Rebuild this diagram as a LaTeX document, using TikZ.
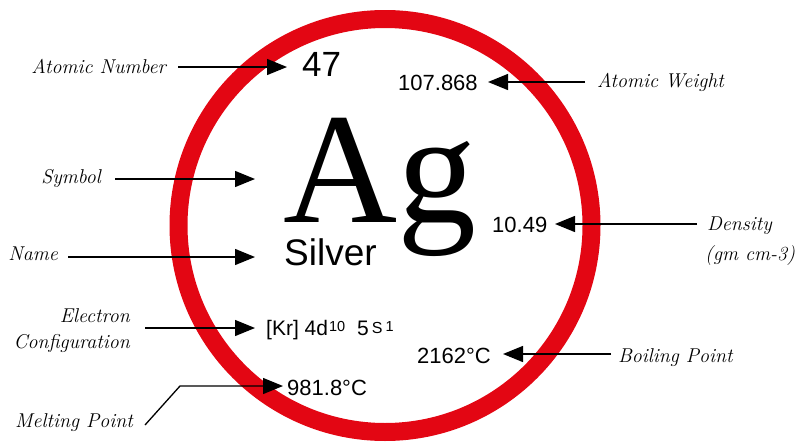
\documentclass[tikz,border=0pt]{standalone}
\usepackage{fontspec}
\setsansfont{Liberation Sans}
\newfontfamily\agfont{Liberation Serif}
\usetikzlibrary{arrows.meta}
\definecolor{ringred}{RGB}{227,6,19}
\tikzset{
  lbl/.style={inner sep=0pt, font=\fontsize{20}{22}\selectfont\itshape},
  val/.style={inner sep=0pt, font=\sffamily\fontsize{22}{24}\selectfont},
  bigsym/.style={inner sep=0pt, font=\agfont\fontsize{158}{160}\selectfont},
  arr/.style={line width=1.3pt, -{Triangle[length=20pt,width=16pt]}}
}
\newcommand{\supsm}[2]{\raisebox{#1}{\fontsize{14.5}{15}\selectfont #2}}
\begin{document}
\begin{tikzpicture}[x=1pt,y=-1pt]
\useasboundingbox (0,0) rectangle (796,442);
\draw[ringred, line width=18pt] (385,225.5) circle[radius=206.5];

% values
\node[inner sep=0pt, anchor=base west, font=\sffamily\fontsize{35}{38}\selectfont] (n47) at (302,76) {47};
\node[val, anchor=base west] (wt) at (398,90) {107.868};
\node[bigsym, anchor=base west] (agA) at (283,222) {A};
\node[bigsym, anchor=base west] (agg) at (agA.base east) {g};
\node[inner sep=0pt, anchor=base west, font=\sffamily\fontsize{37}{40}\selectfont] (silver) at (284,265) {Silver};
\node[val, anchor=base west] (dens) at (492,232) {10.49};
\node[inner sep=0pt, anchor=base west, font=\sffamily\fontsize{21}{24}\selectfont] (conf) at (266,335) {[Kr] 4d\hspace{1pt}\supsm{4pt}{10}\hspace{12pt}5\hspace{3pt}\raisebox{2pt}{\fontsize{16}{16}\selectfont S}\hspace{3pt}\supsm{4pt}{1}};
\node[val, anchor=base west] (boil) at (417,363) {2162°C};
\node[val, anchor=base west] (melt) at (287,395) {981.8°C};

% labels
\node[lbl, anchor=base east] (lAN) at (166,73) {Atomic Number};
\node[lbl, anchor=base west] (lAW) at (597,87) {Atomic Weight};
\node[lbl, anchor=base east] (lSy) at (101,183) {Symbol};
\node[lbl, anchor=base east] (lNa) at (58,260) {Name};
\node[lbl, anchor=base west] (lDe) at (707,230) {Density};
\node[lbl, anchor=base west] (lDu) at (705,260) {(gm cm-3)};
\node[lbl, anchor=base east] (lEl) at (130,322) {Electron};
\node[lbl, anchor=base east] (lCo) at (130,348) {Configuration};
\node[lbl, anchor=base west] (lMe) at (15,427) {Melting Point};
\node[lbl, anchor=base west] (lBo) at (618,362) {Boiling Point};

% arrow ends
\coordinate (sAN) at (178,67);  \coordinate (tAN) at (287,67);
\coordinate (sAW) at (585,82);  \coordinate (tAW) at (488,82);
\coordinate (sSy) at (115,179); \coordinate (tSy) at (255,179);
\coordinate (sNa) at (68,257);  \coordinate (tNa) at (255,257);
\coordinate (sDe) at (697,224); \coordinate (tDe) at (555,224);
\coordinate (sEl) at (145,328); \coordinate (tEl) at (255,328);
\coordinate (sMe) at (145,425); \coordinate (bMe) at (180,386); \coordinate (tMe) at (283,386);
\coordinate (sBo) at (611,354); \coordinate (tBo) at (503,354);

\draw[arr] (sAN) -- (tAN);
\draw[arr] (sAW) -- (tAW);
\draw[arr] (sSy) -- (tSy);
\draw[arr] (sNa) -- (tNa);
\draw[arr] (sDe) -- (tDe);
\draw[arr] (sEl) -- (tEl);
\draw[arr] (sMe) -- (bMe) -- (tMe);
\draw[arr] (sBo) -- (tBo);
\end{tikzpicture}
\end{document}
